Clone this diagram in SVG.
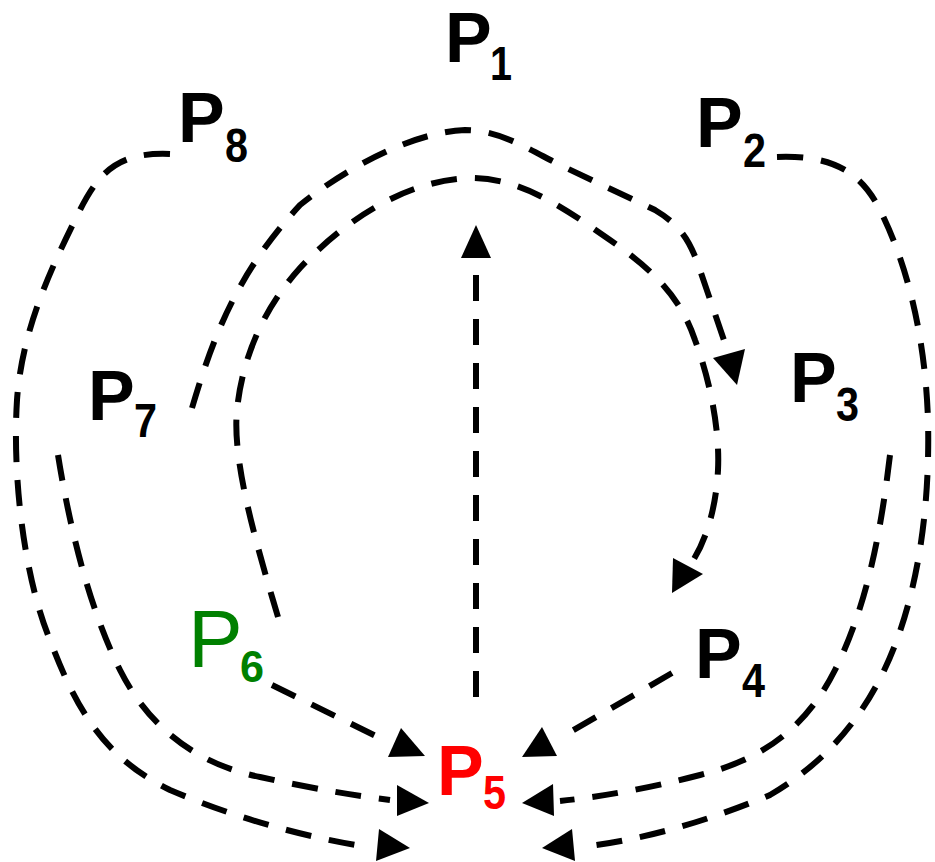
<svg xmlns="http://www.w3.org/2000/svg" width="935" height="862" viewBox="0 0 935 862">
<style>
.c{fill:none;stroke:#000;stroke-width:6;stroke-dasharray:26 18}
.a{fill:#000;stroke:none}
.l{font-family:"Liberation Sans",Arial,sans-serif;font-weight:bold;font-size:70px;fill:#000}
.s{font-size:48px}
</style>
<rect width="935" height="862" fill="#fff"/>
<g id="connectors">
<path class="c" d="M170,154 C120,152 100,170 80,210 C50,270 22,330 17,400 C12,480 25,580 50,640 C80,720 110,760 170,790 C240,820 310,838 368,847"/>
<polygon class="a" points="379,829 376,861 410,848"/>
<path class="c" d="M58,455 C70,530 90,610 120,670 C150,730 200,765 260,777 C310,788 350,795 390,800"/>
<polygon class="a" points="397,785 397,816 429,803"/>
<path class="c" d="M192,408 C215,330 240,270 300,205 C350,165 415,132 465,130 C500,130 530,150 560,165 L655,210 C680,225 690,240 700,270 L728,352"/>
<polygon class="a" points="713,358 745,349 737,385"/>
<path class="c" d="M278,617 C255,540 232,460 237,410 C242,360 262,310 300,268 C350,215 410,180 470,178 C520,178 560,205 610,240 C650,268 680,295 695,340 C710,380 720,430 718,470 C716,510 705,545 688,568"/>
<polygon class="a" points="673,558 672,593 703,574"/>
<path class="c" d="M476,697 L476,258"/>
<polygon class="a" points="476,225 461,258 491,258"/>
<path class="c" d="M272,685 L384,740"/>
<polygon class="a" points="401,728 388,757 425,756"/>
<path class="c" d="M672,673 L565,735"/>
<polygon class="a" points="542,727 522,757 557,756"/>
<path class="c" d="M890,455 C880,540 865,610 835,670 C805,730 760,760 700,775 C650,788 600,797 560,801"/>
<polygon class="a" points="553,784 554,816 522,803"/>
<path class="c" d="M777,157 C830,155 860,170 880,210 C905,260 925,330 928,420 C930,500 920,580 895,645 C870,710 830,760 770,795 C710,820 650,838 590,846"/>
<polygon class="a" points="572,829 575,861 542,848"/>
</g>
<g id="P1"><text class="l" x="445" y="62">P</text><text class="l s" x="490" y="80" textLength="22" lengthAdjust="spacingAndGlyphs">1</text></g>
<g id="P2"><text class="l" x="696" y="147">P</text><text class="l s" x="743" y="167" textLength="23" lengthAdjust="spacingAndGlyphs">2</text></g>
<g id="P3"><text class="l" x="790" y="402">P</text><text class="l s" x="836" y="421" textLength="23" lengthAdjust="spacingAndGlyphs">3</text></g>
<g id="P4"><text class="l" x="695" y="678">P</text><text class="l s" x="742" y="697" textLength="23" lengthAdjust="spacingAndGlyphs">4</text></g>
<g id="P5"><text class="l" x="437" y="795" style="fill:#ff0000">P</text><text class="l s" x="483" y="809" textLength="23" lengthAdjust="spacingAndGlyphs" style="fill:#ff0000">5</text></g>
<g id="P6"><text class="l" x="188" y="667" style="fill:#008000;font-weight:normal;font-size:82px">P</text><text class="l" x="240" y="682" textLength="24" lengthAdjust="spacingAndGlyphs" style="fill:#008000;font-size:45px">6</text></g>
<g id="P7"><text class="l" x="88" y="420">P</text><text class="l s" x="134" y="437" textLength="23" lengthAdjust="spacingAndGlyphs">7</text></g>
<g id="P8"><text class="l" x="178" y="142">P</text><text class="l s" x="225" y="162" textLength="23" lengthAdjust="spacingAndGlyphs">8</text></g>
</svg>
